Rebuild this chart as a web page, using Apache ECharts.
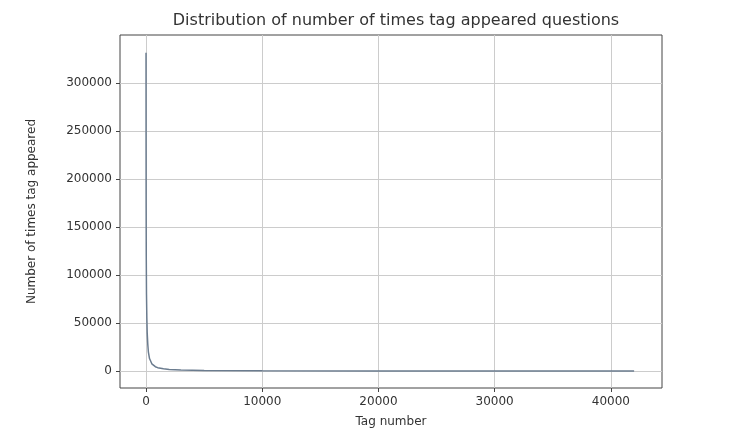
<!DOCTYPE html>
<html><head><meta charset="utf-8">
<script src="https://cdn.jsdelivr.net/npm/echarts@6/dist/echarts.min.js"></script>
<style>body{margin:0;background:#fff}#c{width:742px;height:444px}</style></head>
<body><div id="c"></div>
<script>
const tagNumber = [0, 5, 10, 20, 40, 70, 100, 150, 200, 300, 500, 800, 1000, 1500, 2000, 3000, 5000, 10000, 20000, 30000, 42000];
const tagCount = [331505, 230000, 170000, 120000, 80000, 55000, 40000, 28000, 20000, 13000, 7500, 4500, 3500, 2300, 1600, 1000, 500, 200, 60, 20, 1];
const xTicks = [0, 10000, 20000, 30000, 40000];
const yTicks = [0, 50000, 100000, 150000, 200000, 250000, 300000];

const chart = echarts.init(document.getElementById('c'));
const font = 'DejaVu Sans';
chart.setOption({
  animation: false,
  title: { text: 'Distribution of number of times tag appeared questions', left: 391, top: 8, textAlign: 'center',
    textStyle: { fontFamily: font, fontSize: 16, fontWeight: 'normal', color: '#333' } },
  grid: { left: 120, right: 80, top: 35, bottom: 56, show: true, borderColor: '#444', borderWidth: 1 },
  xAxis: {
    type: 'value', min: -2240, max: 44400,
    name: 'Tag number', nameLocation: 'middle', nameGap: 28,
    nameTextStyle: { fontFamily: font, fontSize: 12, color: '#333' },
    axisLine: { show: false, onZero: false },
    axisTick: { show: true, customValues: xTicks, length: 4, lineStyle: { color: '#444' } },
    axisLabel: { customValues: xTicks, formatter: v => String(v), fontFamily: font, fontSize: 12, color: '#333' },
    splitLine: { show: true, lineStyle: { color: '#ccc' } }
  },
  yAxis: {
    type: 'value', min: -17700, max: 350000,
    name: 'Number of times tag appeared', nameLocation: 'middle', nameGap: 82,
    nameTextStyle: { fontFamily: font, fontSize: 12, color: '#333' },
    axisLine: { show: false, onZero: false },
    axisTick: { show: true, customValues: yTicks, length: 4, lineStyle: { color: '#444' } },
    axisLabel: { customValues: yTicks, formatter: v => String(v), fontFamily: font, fontSize: 12, color: '#333' },
    splitLine: { show: true, lineStyle: { color: '#ccc' } }
  },
  series: [{
    type: 'line', showSymbol: false, smooth: false,
    data: tagNumber.map((x, i) => [x, tagCount[i]]),
    lineStyle: { color: '#6b7c8f', width: 1.5 }
  }]
});
</script></body></html>
